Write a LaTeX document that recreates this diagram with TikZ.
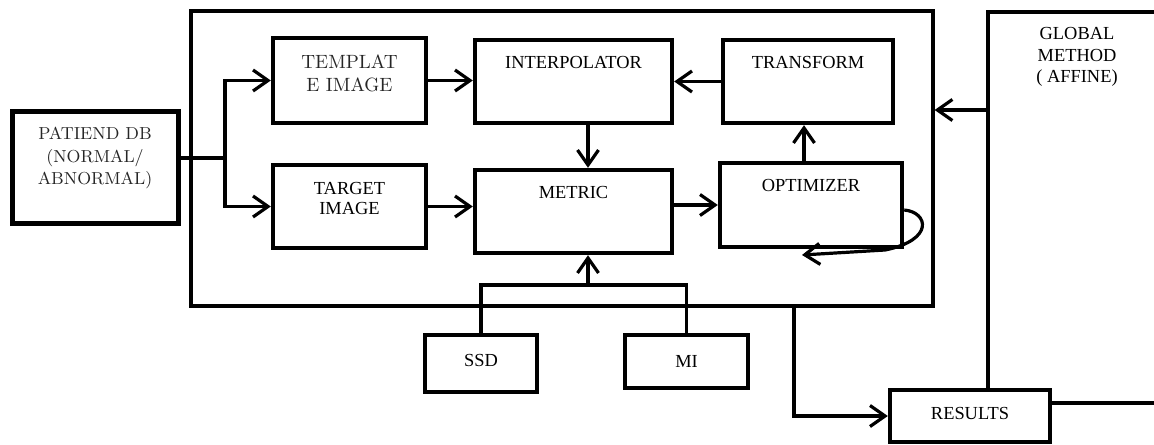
\documentclass[tikz,border=0pt]{standalone}
\usepackage{fontspec}
\newfontfamily\tnr{Liberation Serif}
\usetikzlibrary{arrows.meta}
\begin{document}
\begin{tikzpicture}[x=0.5pt,y=-0.5pt,
  bx/.style={draw, line width=2.2pt, inner sep=0pt},
  tt/.style={font=\tnr\fontsize{9.2}{10.75}\selectfont, text=black},
  gm/.style={font=\fontsize{9.6}{11.5}\selectfont, text=black!85},
  ln/.style={line width=1.6pt},
  arr/.style={line width=1.6pt, -{Straight Barb[length=7.5pt,width=10.5pt]}}]
\useasboundingbox (0,0) rectangle (1154,444);
% main frame
\node[draw, line width=1.6pt, inner sep=0pt, minimum width=371pt, minimum height=147.5pt] (big) at (562,158.5) {};
% boxes
\node[bx, line width=2.5pt, minimum width=83pt, minimum height=56pt,
  label={[gm, font=\fontsize{8.7}{11.25}\selectfont, align=center, yshift=4.5pt]center:PATIEND DB\\(NORMAL/\\ABNORMAL)}] (pdb) at (95,167) {};
\node[bx, minimum width=76.5pt, minimum height=42.5pt,
  label={[gm, align=center, yshift=3.5pt]center:TEMPLAT\\E IMAGE}] (tmpl) at (349.5,80.5) {};
\node[bx, minimum width=76.5pt, minimum height=41.5pt,
  label={[tt, font=\tnr\fontsize{9.2}{10}\selectfont, align=center, yshift=4.25pt]center:TARGET\\IMAGE}] (tgt) at (349.5,206.5) {};
\node[bx, minimum width=98.5pt, minimum height=41.5pt,
  label={[tt, yshift=9.75pt]center:INTERPOLATOR}] (interp) at (573.5,81.5) {};
\node[bx, minimum width=98.5pt, minimum height=41.5pt,
  label={[tt, yshift=9.75pt]center:METRIC}] (metric) at (573.5,211.5) {};
\node[bx, minimum width=85pt, minimum height=41.5pt,
  label={[tt, yshift=9.75pt]center:TRANSFORM}] (trans) at (808,81.5) {};
\node[bx, minimum width=91pt, minimum height=42pt,
  label={[tt, yshift=10pt]center:OPTIMIZER}] (opt) at (811,205) {};
\node[bx, minimum width=56pt, minimum height=28.5pt,
  label={[tt, yshift=1.5pt]center:SSD}] (ssd) at (481,363.5) {};
\node[bx, minimum width=61.5pt, minimum height=26.5pt,
  label={[tt]center:MI}] (mi) at (686.5,361.5) {};
\node[bx, minimum width=80pt, minimum height=26pt,
  label={[tt, yshift=1.5pt]center:RESULTS}] (res) at (970,416) {};
\node[tt, align=center] (glob) at (1077,57) {GLOBAL\\METHOD\\( AFFINE)};
% helper coordinates
\coordinate (j) at (225,158);
\coordinate (br) at (588,285);
\coordinate (gtop) at (988,12);
\coordinate (gright) at (1156,12);
\coordinate (ga) at (988,110);
\coordinate (rr) at (1156,403);
\coordinate (bo) at (794,306);
\coordinate (loopend) at (802,255);
% connectors
\draw[ln] (j -| pdb.east) -- (j);
\draw[arr] (j) |- (tmpl.west);
\draw[arr] (j) |- (tgt.west);
\draw[arr] (tmpl.east) -- (tmpl.east -| interp.west);
\draw[arr] (trans.west) -- (trans.west -| interp.east);
\draw[arr] ([xshift=7.25pt]interp.south) -- ([xshift=7.25pt]metric.north);
\draw[arr] (tgt.east) -- (tgt.east -| metric.west);
\draw[arr] (opt.west -| metric.east) -- (opt.west);
\draw[arr] ([xshift=-3.5pt]opt.north) -- ([xshift=-3.5pt]opt.north |- trans.south);
\draw[arr] ([yshift=-2.5pt]opt.east) .. controls (928,212) and (935,240) .. (885,250) -- (loopend);
\draw[ln] (ssd.north) |- (br) -| (mi.north);
\draw[arr] (br) -- (br |- metric.south);
\draw[line width=2.1pt] (res.north -| gtop) -- (gtop) -- (gright);
\draw[arr] (ga) -- (ga -| big.east);
\draw[line width=2.1pt] (rr -| res.east) -- (rr);
\draw[arr] (bo) |- (res.west);
\end{tikzpicture}
\end{document}
